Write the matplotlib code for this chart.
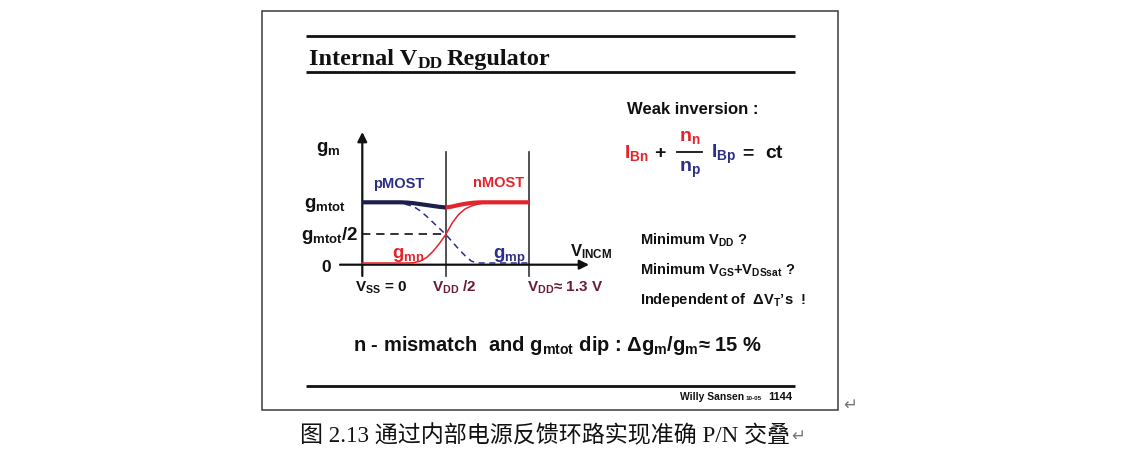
import matplotlib
matplotlib.use('Agg')
import matplotlib.pyplot as plt
from matplotlib.patches import Rectangle

# ---------------- data ----------------
v_incm = [0.0, 0.1, 0.2, 0.3, 0.35, 0.4, 0.45, 0.5, 0.55, 0.6, 0.65,
          0.7, 0.75, 0.8, 0.85, 0.9, 0.95, 1.0, 1.1, 1.2, 1.3]
gmn = [0.0, 0.0, 0.0, 0.0, 0.0, 0.005, 0.03, 0.09, 0.19, 0.32, 0.47,
       0.66, 0.80, 0.89, 0.94, 0.97, 0.99, 1.0, 1.0, 1.0, 1.0]
gmp = [1.0, 1.0, 1.0, 0.99, 0.96, 0.93, 0.86, 0.77, 0.67, 0.57, 0.47,
       0.35, 0.23, 0.12, 0.03, 0.0, 0.0, 0.0, 0.0, 0.0, 0.0]
v_pmost = [0.0, 0.1, 0.2, 0.3, 0.35, 0.4, 0.45, 0.5, 0.55, 0.6, 0.65]
gmtot_pmost = [1.0, 1.0, 1.0, 1.0, 0.995, 0.985, 0.97, 0.955, 0.94, 0.925, 0.915]
v_nmost = [0.65, 0.7, 0.75, 0.8, 0.85, 0.9, 0.95, 1.0, 1.1, 1.2, 1.3]
gmtot_nmost = [0.915, 0.93, 0.955, 0.975, 0.99, 0.998, 1.0, 1.0, 1.0, 1.0, 1.0]
v_marks = [0.0, 0.65, 1.3]
half_level = 0.47

# ---------------- style ----------------
plt.rcParams['mathtext.fontset'] = 'custom'
plt.rcParams['mathtext.rm'] = 'Liberation Sans:bold'
plt.rcParams['mathtext.it'] = 'Liberation Sans:bold'
plt.rcParams['mathtext.bf'] = 'Liberation Sans:bold'
plt.rcParams['mathtext.sf'] = 'Liberation Sans:bold'
plt.rcParams['mathtext.default'] = 'rm'
plt.rcParams['font.family'] = ['Liberation Sans', 'DejaVu Sans']

RED = '#E3242B'
NAVY = '#2C2F85'
DNAVY = '#1C1F4D'
MAROON = '#6A1B3A'
BLACK = '#111111'

W, H = 1125, 452
fig = plt.figure(figsize=(W / 100, H / 100), dpi=100)
fig.patch.set_facecolor('white')

bg = fig.add_axes([0, 0, 1, 1])
bg.set_xlim(0, W)
bg.set_ylim(H, 0)
bg.axis('off')

# slide frame and rules
bg.add_patch(Rectangle((261.5, 12.3), 576, 398.7, fill=False, ec='#3a3a3a', lw=1.1))
for yy in (36.7, 73.3, 386.7):
    bg.plot([306, 794.5], [yy, yy], color=BLACK, lw=2.0, solid_capstyle='butt')

# title
tkw = dict(family='Liberation Serif', weight='bold', color=BLACK, va='baseline')
bg.text(309.3, 65, 'Internal V', fontsize=17.5, **tkw)
bg.text(418, 68.5, 'DD', fontsize=12.5, **tkw)
bg.text(446.5, 65, 'Regulator', fontsize=17.5, **tkw)

# ---------------- chart axes ----------------
px_l, px_r, py_t, py_b = 300, 620, 125, 300
ax = fig.add_axes([px_l / W, 1 - py_b / H, (px_r - px_l) / W, (py_b - py_t) / H])
x0px, xscale = 362.3, (529.3 - 362.3) / 1.3
y0px, yscale = 264.0, (264.0 - 203.3)
ax.set_xlim((px_l - x0px) / xscale, (px_r - x0px) / xscale)
ax.set_ylim((y0px - py_b) / yscale, (y0px - py_t) / yscale)
ax.axis('off')

def vx(px):
    return (px - x0px) / xscale

def vy(py):
    return (y0px - py) / yscale

axis_y = vy(265.7)
arrow = dict(arrowstyle='-|>', color=BLACK, lw=1.6, mutation_scale=14,
             shrinkA=0, shrinkB=0)
ax.annotate('', xy=(vx(589), axis_y), xytext=(vx(340), axis_y), arrowprops=arrow)
ax.annotate('', xy=(0, vy(133)), xytext=(0, vy(277)), arrowprops=arrow)
for xm in v_marks[1:]:
    ax.plot([xm, xm], [vy(277), vy(153)], color='#333333', lw=1.2)

ax.plot([0, v_marks[1]], [half_level, half_level], color=BLACK, lw=1.2,
        ls=(0, (5, 3.5)))

ax.plot(v_incm, gmn, color=RED, lw=1.1, zorder=3)
ax.plot(v_incm, gmp, color=NAVY, lw=1.1, ls=(0, (4, 3)), zorder=3)
ax.plot(v_pmost, gmtot_pmost, color=DNAVY, lw=3.0, zorder=4, solid_capstyle='butt')
ax.plot(v_nmost, gmtot_nmost, color=RED, lw=3.0, zorder=4, solid_capstyle='butt')

# ---------------- chart labels ----------------
b = dict(va='baseline', weight='bold')
bg.text(316, 152, r'$\mathrm{g_m}$', fontsize=13.5, color=BLACK, ha='left', **b)
bg.text(325, 208, r'$\mathrm{g_{mtot}}$', fontsize=13.5, color=BLACK, ha='center', **b)
bg.text(330, 240, r'$\mathrm{g_{mtot}/2}$', fontsize=13.5, color=BLACK, ha='center', **b)
bg.text(326, 272, '0', fontsize=12.5, color=BLACK, ha='center', **b)
bg.text(373, 188, 'pMOST', fontsize=10.5, color=NAVY, ha='left', **b)
bg.text(473, 187, 'nMOST', fontsize=10.5, color=RED, ha='left', **b)
bg.text(392, 258, r'$\mathrm{g_{mn}}$', fontsize=13.5, color=RED, ha='left', **b)
bg.text(493, 259, r'$\mathrm{g_{mp}}$', fontsize=13.5, color=NAVY, ha='left', **b)
bg.text(570, 256, r'$\mathrm{V_{INCM}}$', fontsize=12, color=BLACK, ha='left', **b)
bg.text(355, 292, r'$\mathrm{V_{SS}}$ = 0', fontsize=11, color=BLACK, ha='left', **b)
bg.text(432, 292, r'$\mathrm{V_{DD}}$ /2', fontsize=11, color=MAROON, ha='left', **b)
bg.text(527, 292, r'$\mathrm{V_{DD}}$≈ 1.3 V', fontsize=11, color=MAROON, ha='left', **b)

# ---------------- right-hand text ----------------
bg.text(627, 114, 'Weak inversion :', fontsize=12, color=BLACK, ha='left', **b)
bg.text(624, 158, r'$\mathrm{I_{Bn}}$', fontsize=14, color=RED, ha='left', **b)
bg.text(654, 158, '+', fontsize=14, color=BLACK, ha='left', **b)
bg.text(690, 141.5, r'$\mathrm{n_n}$', fontsize=14, color=RED, ha='center', **b)
bg.plot([677, 702], [153.3, 153.3], color=BLACK, lw=1.3)
bg.text(690, 172.5, r'$\mathrm{n_p}$', fontsize=14, color=NAVY, ha='center', **b)
bg.text(711, 158, r'$\mathrm{I_{Bp}}$', fontsize=14, color=NAVY, ha='left', **b)
bg.text(742, 158, '=', fontsize=14, color=BLACK, ha='left', **b)
bg.text(765, 158, 'ct', fontsize=14, color=BLACK, ha='left', **b)

bg.text(640, 245, r'Minimum $\mathrm{V_{DD}}$ ?', fontsize=10.5, color=BLACK, ha='left', **b)
bg.text(640, 275, r'Minimum $\mathrm{V_{GS}}$+$\mathrm{V_{DSsat}}$ ?', fontsize=10.5,
        color=BLACK, ha='left', **b)
bg.text(640, 304, r'Independent of  Δ$\mathrm{V_T}$’s  !', fontsize=10.5,
        color=BLACK, ha='left', **b)

bg.text(352.7, 351, r'n - mismatch  and $\mathrm{g_{mtot}}$ dip : Δ$\mathrm{g_m}$/$\mathrm{g_m}$≈ 15 %',
        fontsize=14.5, color=BLACK, ha='left', **b)

# footer
bg.text(680, 400, 'Willy Sansen', fontsize=7.5, color=BLACK, ha='left', **b)
bg.text(746, 400, '10-05', fontsize=4.5, color=BLACK, ha='left', **b)
bg.text(792, 400, '1144', fontsize=8, color=BLACK, ha='right', **b)

# caption + return marks
bg.text(790, 442, '图 2.13 通过内部电源反馈环路实现准确 P/N 交叠', fontsize=16.6,
        family=['Liberation Serif', 'Noto Sans CJK SC'], color=BLACK,
        ha='right', va='baseline')
bg.text(791, 441, '↵', fontsize=12, family='DejaVu Sans', color='#777777',
        ha='left', va='baseline')
bg.text(843, 410, '↵', fontsize=12, family='DejaVu Sans', color='#777777',
        ha='left', va='baseline')

fig.savefig('out.png', dpi=100, facecolor='white')
